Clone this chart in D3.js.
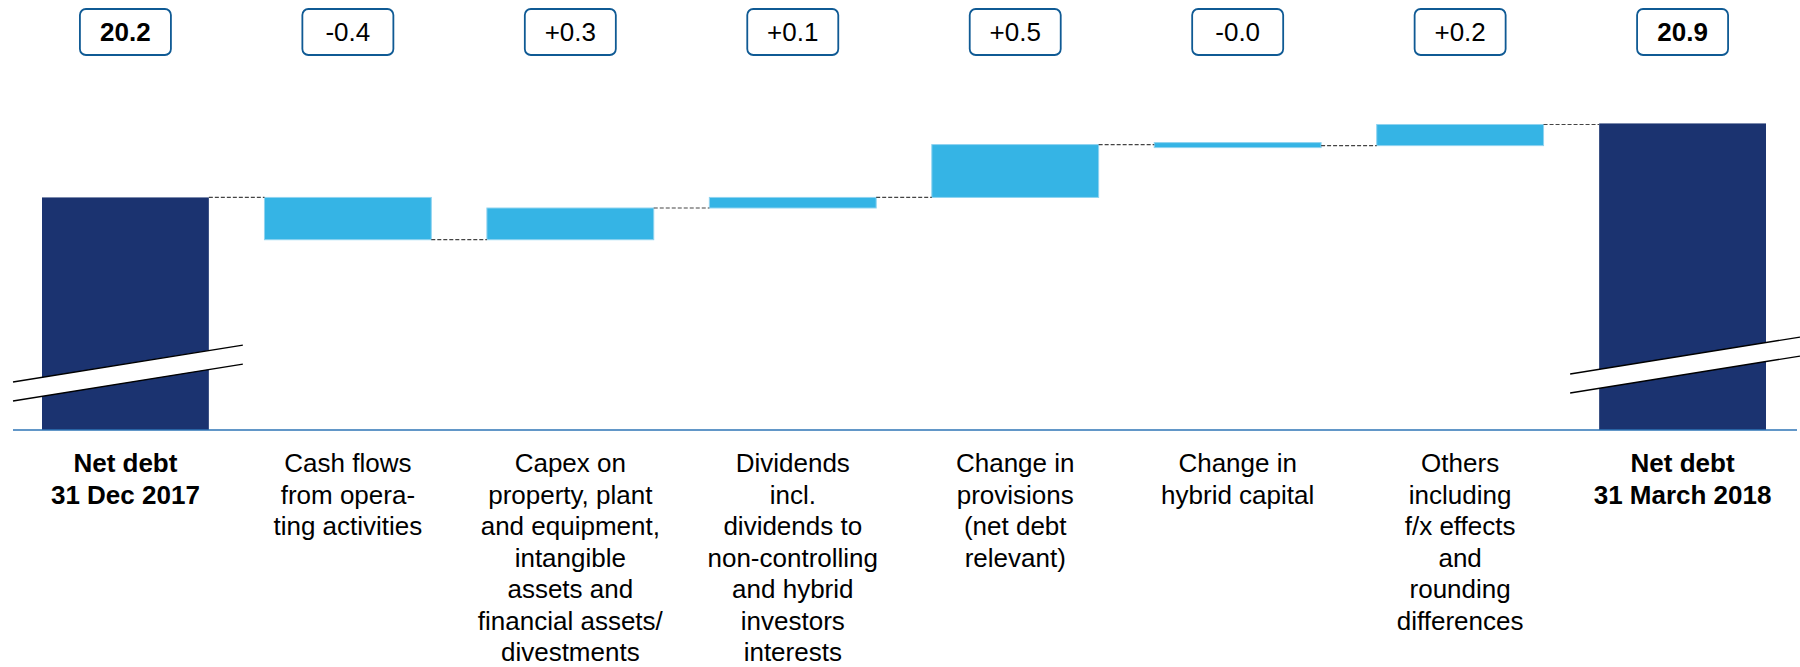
<!DOCTYPE html>
<html>
<head>
<meta charset="utf-8">
<script src="https://cdn.jsdelivr.net/npm/d3@7"></script>
<style>
  body { margin: 0; background: #fff; }
  svg { display: block; font-family: "Liberation Sans", Arial, sans-serif; }
</style>
</head>
<body>
<div id="chart"></div>
<script>
// categories (line breaks as in the slide)
const categories = [
  "Net debt\n31 Dec 2017",
  "Cash flows\nfrom opera-\nting activities",
  "Capex on\nproperty, plant\nand equipment,\nintangible\nassets and\nfinancial assets/\ndivestments",
  "Dividends\nincl.\ndividends to\nnon-controlling\nand hybrid\ninvestors\ninterests",
  "Change in\nprovisions\n(net debt\nrelevant)",
  "Change in\nhybrid capital",
  "Others\nincluding\nf/x effects\nand\nrounding\ndifferences",
  "Net debt\n31 March 2018"
];
const startValue = 20.2;
const endValue = 20.9;
const deltas = [-0.4, 0.3, 0.1, 0.5, -0.01, 0.2];
const boxLabels = ["20.2", "-0.4", "+0.3", "+0.1", "+0.5", "-0.0", "+0.2", "20.9"];

var width = 1800,
    height = 667,
    baseY = 430;

const svg = d3.select("#chart")
  .append("svg")
    .attr("width", width)
    .attr("height", height);

const x = d3.scaleBand()
    .domain(categories)
    .range([42, 1766])
    .paddingInner(0.25)
    .paddingOuter(0);

// broken axis: the bottom line stands for 18.0
const y = d3.scaleLinear().domain([18, 21.5]).range([baseY, 60]);

// build waterfall rows
const rows = [];
let run = startValue;
rows.push({ cat: categories[0], total: true, from: 18, to: startValue });
deltas.forEach((d, i) => {
  rows.push({ cat: categories[i + 1], total: false, from: run, to: run + d });
  run += d;
});
rows.push({ cat: categories[7], total: true, from: 18, to: endValue });

// bars
svg.append("g")
  .selectAll("rect")
  .data(rows)
  .join("rect")
    .attr("x", d => x(d.cat))
    .attr("width", x.bandwidth())
    .attr("y", d => {
      const a = y(d.from), b = y(d.to);
      const h = Math.abs(a - b);
      return h < 5 ? (a + b) / 2 - 2.5 : Math.min(a, b);
    })
    .attr("height", d => Math.max(5, Math.abs(y(d.from) - y(d.to))))
    .attr("fill", d => d.total ? "#1b3370" : "#35b4e5")
    .attr("stroke", d => d.total ? "none" : "#8fd3f0")
    .attr("stroke-width", 1);

// dashed connectors
const links = rows.slice(0, -1).map((d, i) => ({
  x1: x(d.cat) + x.bandwidth(),
  x2: x(rows[i + 1].cat),
  v: d.to
}));
svg.append("g")
  .selectAll("line")
  .data(links)
  .join("line")
    .attr("x1", d => d.x1)
    .attr("x2", d => d.x2)
    .attr("y1", d => y(d.v))
    .attr("y2", d => y(d.v))
    .attr("stroke", "#444")
    .attr("stroke-width", 1.2)
    .attr("stroke-dasharray", "4,2");

// axis break marks on the two total bars
const slope = -37 / 230;
const breaks = [{ cat: categories[0], yl: 382 }, { cat: categories[7], yl: 374 }];
breaks.forEach(b => {
  const x0 = x(b.cat) - 29, x1 = x(b.cat) + x.bandwidth() + 34;
  const dy = (x1 - x0) * slope;
  svg.append("path")
    .attr("d", `M${x0},${b.yl}L${x1},${b.yl + dy}L${x1},${b.yl + dy + 19}L${x0},${b.yl + 19}Z`)
    .attr("fill", "#fff");
  [0, 19].forEach(o => {
    svg.append("line")
      .attr("x1", x0).attr("y1", b.yl + o)
      .attr("x2", x1).attr("y2", b.yl + dy + o)
      .attr("stroke", "#000")
      .attr("stroke-width", 1.3);
  });
});

// base line
svg.append("line")
  .attr("x1", 13).attr("x2", 1797)
  .attr("y1", baseY).attr("y2", baseY)
  .attr("stroke", "#2e75b6")
  .attr("stroke-width", 1.5);

// value boxes
const boxes = svg.append("g")
  .selectAll("g")
  .data(rows)
  .join("g")
    .attr("transform", d => `translate(${x(d.cat) + x.bandwidth() / 2},32)`);
boxes.append("rect")
  .attr("x", -45.5).attr("y", -23)
  .attr("width", 91).attr("height", 46)
  .attr("rx", 6)
  .attr("fill", "#fff")
  .attr("stroke", "#0f5a94")
  .attr("stroke-width", 1.8);
boxes.append("text")
  .attr("text-anchor", "middle")
  .attr("dy", "0.36em")
  .attr("font-size", 26)
  .attr("font-weight", d => d.total ? "bold" : "normal")
  .text((d, i) => boxLabels[i]);

// category labels
const labels = svg.append("g")
  .selectAll("text")
  .data(rows)
  .join("text")
    .attr("x", d => x(d.cat) + x.bandwidth() / 2)
    .attr("y", 472)
    .attr("text-anchor", "middle")
    .attr("font-size", 26)
    .attr("font-weight", d => d.total ? "bold" : "normal")
    .attr("fill", "#000");
labels.selectAll("tspan")
  .data(d => d.cat.split("\n"))
  .join("tspan")
    .attr("x", function () { return this.parentNode.getAttribute("x"); })
    .attr("dy", (d, i) => i === 0 ? 0 : 31.5)
    .text(d => d);
</script>
</body>
</html>
